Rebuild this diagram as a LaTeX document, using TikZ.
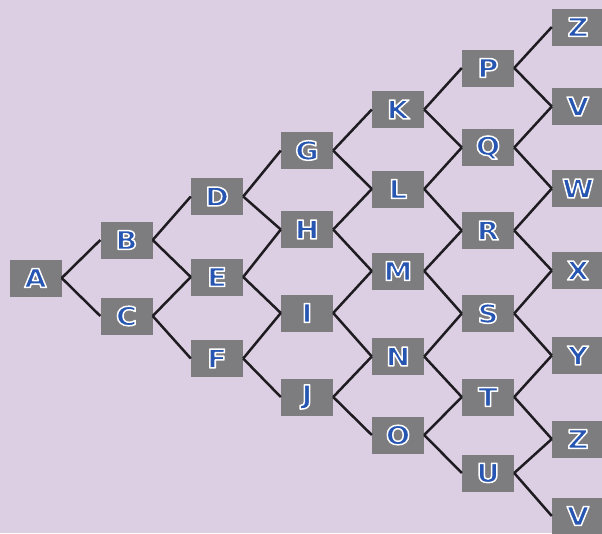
\documentclass[tikz,border=0pt]{standalone}
\usepackage{fontspec}
\setmainfont{DejaVu Sans}
\newfontfamily\letfont[FakeStretch=1.1]{DejaVu Sans Bold}
\definecolor{bgcol}{RGB}{220,207,227}
\definecolor{boxcol}{RGB}{125,125,128}
\definecolor{letcol}{RGB}{38,86,178}
\definecolor{linecol}{RGB}{30,28,32}
\tikzset{
  lbox/.style={rectangle, fill=boxcol, minimum width=52pt, minimum height=37pt, inner sep=0pt,
    text=letcol, font=\letfont\fontsize{26}{26}\selectfont},
  conn/.style={draw=linecol, line width=2.5pt}
}
\newcommand{\lt}[1]{\special{pdf:literal direct 2 Tr 1.5 w 1 j 1 1 1 RG}#1\special{pdf:literal direct 0 Tr}}
\begin{document}
\begin{tikzpicture}[x=1pt,y=-1pt]
\useasboundingbox (0,0) rectangle (602,533);
\fill[bgcol] (0,0) rectangle (602,533);
\clip (0,0) rectangle (602,533);
\node[lbox] (A) at (35.5,278) {\lt{A}};
\node[lbox] (B) at (126.5,240) {\lt{B}};
\node[lbox] (C) at (126.5,316) {\lt{C}};
\node[lbox] (D) at (217,196.5) {\lt{D}};
\node[lbox] (E) at (217,277) {\lt{E}};
\node[lbox] (F) at (217,358.5) {\lt{F}};
\node[lbox] (G) at (307,150.5) {\lt{G}};
\node[lbox] (H) at (307,229.5) {\lt{H}};
\node[lbox] (I) at (307,313) {\lt{I}};
\node[lbox] (J) at (307,397) {\lt{J}};
\node[lbox] (K) at (398,109.5) {\lt{K}};
\node[lbox] (L) at (398,189) {\lt{L}};
\node[lbox] (M) at (398,271) {\lt{M}};
\node[lbox] (N) at (398,356.5) {\lt{N}};
\node[lbox] (O) at (398,435) {\lt{O}};
\node[lbox] (P) at (488,68) {\lt{P}};
\node[lbox] (Q) at (488,147.5) {\lt{Q}};
\node[lbox] (R) at (488,230.5) {\lt{R}};
\node[lbox] (S) at (488,313.5) {\lt{S}};
\node[lbox] (T) at (488,397) {\lt{T}};
\node[lbox] (U) at (488,473) {\lt{U}};
\node[lbox] (Z1) at (578,27) {\lt{Z}};
\node[lbox] (V1) at (578,106.5) {\lt{V}};
\node[lbox] (W) at (578,188.5) {\lt{W}};
\node[lbox] (X) at (578,270.5) {\lt{X}};
\node[lbox] (Y) at (578,355.5) {\lt{Y}};
\node[lbox] (Z2) at (578,439) {\lt{Z}};
\node[lbox] (V2) at (578,516) {\lt{V}};
\foreach \p/\c in {A/B,A/C,B/D,B/E,C/E,C/F,D/G,D/H,E/H,E/I,F/I,F/J,
  G/K,G/L,H/L,H/M,I/M,I/N,J/N,J/O,K/P,K/Q,L/Q,L/R,M/R,M/S,N/S,N/T,O/T,O/U,
  P/Z1,P/V1,Q/V1,Q/W,R/W,R/X,S/X,S/Y,T/Y,T/Z2,U/Z2,U/V2}
  \draw[conn] (\p.east) -- (\c.west);
\end{tikzpicture}
\end{document}
